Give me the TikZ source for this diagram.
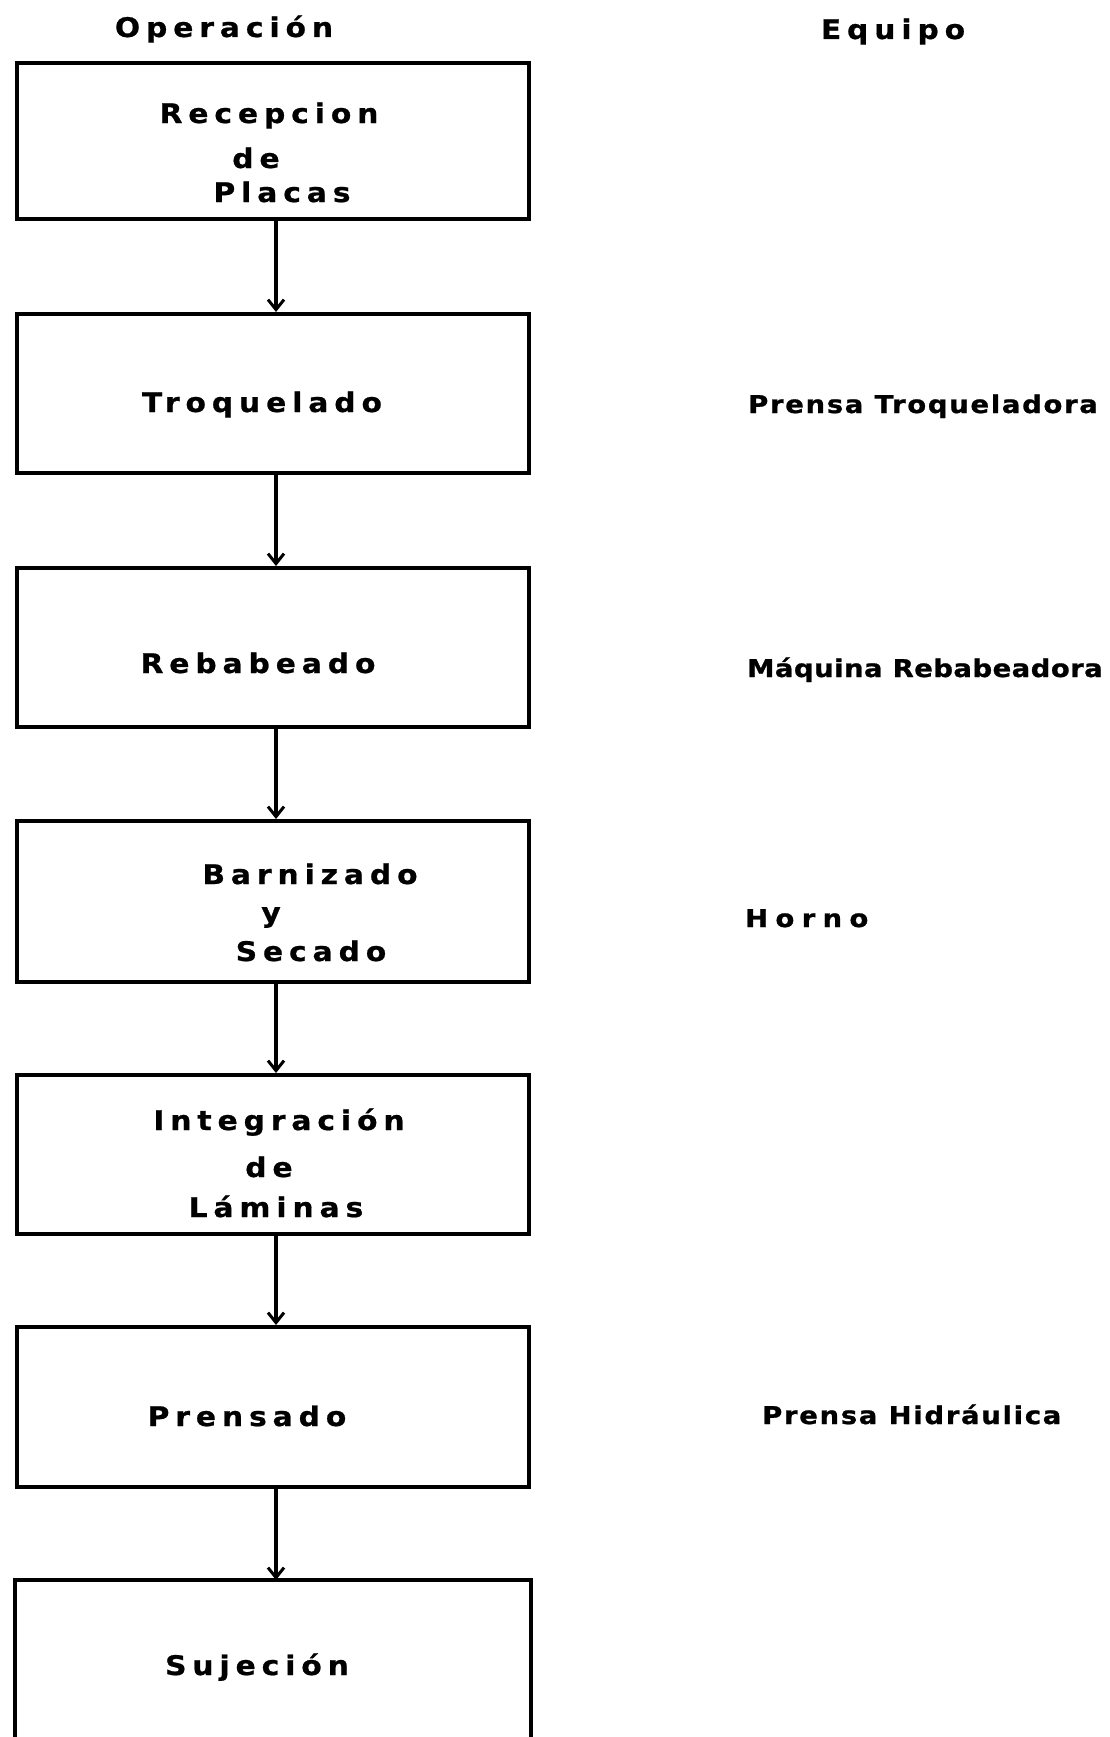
\documentclass[tikz,border=0pt]{standalone}
\usepackage{fontspec}
\usetikzlibrary{arrows.meta}
\newfontfamily\opfont[LetterSpace=22,FakeStretch=1.1,FakeBold=0.8]{DejaVu Sans}
\newfontfamily\eqfont[LetterSpace=7,FakeStretch=1.12,FakeBold=1]{DejaVu Sans}
\newfontfamily\eqtightfont[LetterSpace=2,FakeStretch=1.12,FakeBold=1]{DejaVu Sans}
\newfontfamily\eqwidefont[LetterSpace=30,FakeStretch=1.12,FakeBold=1]{DejaVu Sans}
\begin{document}
\begin{tikzpicture}[x=1pt,y=-1pt,
  stepbox/.style={draw,line width=4pt,minimum width=512pt,inner sep=0pt},
  optext/.style={anchor=base,inner sep=0pt,font=\opfont\bfseries\fontsize{27}{32}\selectfont},
  eqtext/.style={anchor=base west,inner sep=0pt,font=\eqfont\bfseries\fontsize{24.5}{28}\selectfont},
  head/.style={optext},
  flow/.style={line width=3.2pt,-{Straight Barb[length=10pt,width=16pt,line width=3pt]}}]
\useasboundingbox (0,0) rectangle (1109,1737);

% column headings
\node[head] (hop) at (224,37) {Operación};
\node[head] (heq) at (893,39) {Equipo};

% operation boxes
\node[stepbox,minimum height=156pt] (b1) at (273,141) {};
\node[stepbox,minimum height=159pt] (b2) at (273,393.5) {};
\node[stepbox,minimum height=159pt] (b3) at (273,647.5) {};
\node[stepbox,minimum height=161pt] (b4) at (273,901.5) {};
\node[stepbox,minimum height=159pt] (b5) at (273,1154.5) {};
\node[stepbox,minimum height=160pt] (b6) at (273,1407) {};
\node[stepbox,draw=none,minimum height=168pt] (b7) at (273,1666) {};
\draw[line width=4pt] (b7.south west) -- (b7.north west) -- (b7.north east) -- (b7.south east);

% texts inside the boxes
\node[optext] (t1a) at (269,123) {Recepcion};
\node[optext] (t1b) at (256,168) {de};
\node[optext] (t1c) at (282,202) {Placas};
\node[optext] (t2) at (262,412) {Troquelado};
\node[optext] (t3) at (258,673) {Rebabeado};
\node[optext] (t4a) at (310,884) {Barnizado};
\node[optext] (t4b) at (271,922) {y};
\node[optext] (t4c) at (311,961) {Secado};
\node[optext] (t5a) at (279,1130) {Integración};
\node[optext] (t5b) at (269,1177) {de};
\node[optext] (t5c) at (276,1217) {Láminas};
\node[optext] (t6) at (247,1426) {Prensado};
\node[optext] (t7) at (257,1675) {Sujeción};

% equipment labels
\node[eqtext] (e2) at (748,413) {Prensa Troqueladora};
\node[eqtext,font=\eqtightfont\bfseries\fontsize{24.5}{28}\selectfont] (e3) at (747,677) {Máquina Rebabeadora};
\node[eqtext,font=\eqwidefont\bfseries\fontsize{24.5}{28}\selectfont] (e4) at (745,927) {Horno};
\node[eqtext] (e6) at (762,1424) {Prensa Hidráulica};

% flow arrows
\foreach \a/\b in {b1/b2,b2/b3,b3/b4,b4/b5,b5/b6,b6/b7}
  \draw[flow] ([xshift=3pt]\a.south) -- ([xshift=3pt]\b.north);
\end{tikzpicture}
\end{document}
